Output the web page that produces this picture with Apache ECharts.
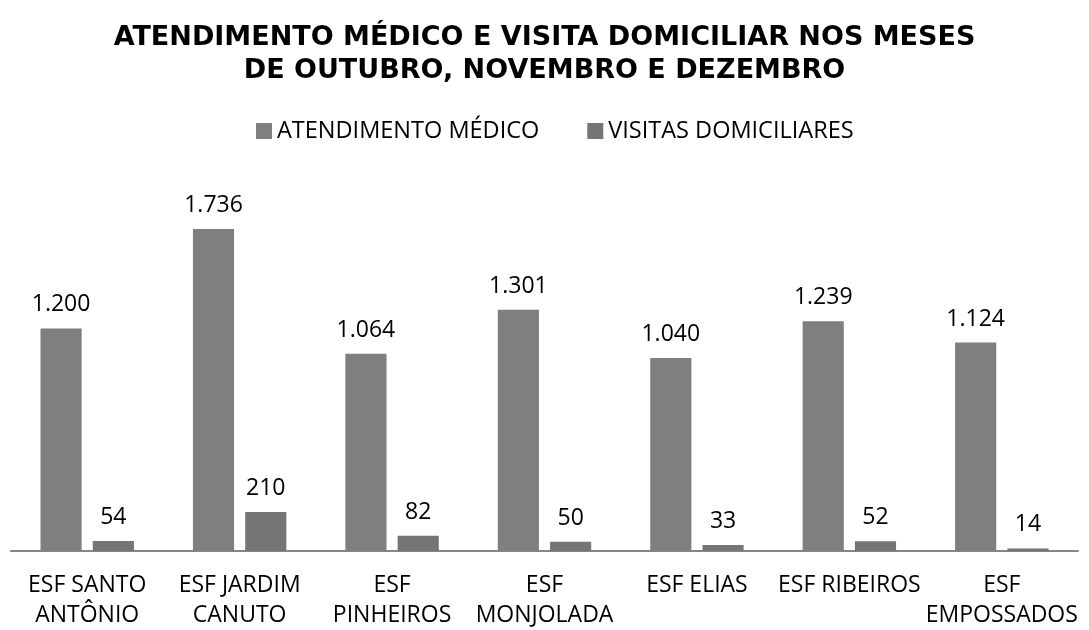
<!DOCTYPE html>
<html>
<head>
<meta charset="utf-8">
<script src="https://cdn.jsdelivr.net/npm/echarts@6/dist/echarts.min.js"></script>
<style>
  html, body { margin: 0; padding: 0; background: #fff; }
  #chart { width: 1089px; height: 630px; }
</style>
</head>
<body>
<div id="chart"></div>
<script>
// dados
var unidades = ['ESF SANTO\nANTÔNIO', 'ESF JARDIM\nCANUTO', 'ESF\nPINHEIROS', 'ESF\nMONJOLADA', 'ESF ELIAS', 'ESF RIBEIROS', 'ESF\nEMPOSSADOS'];
var atendimentoMedico = [1200, 1736, 1064, 1301, 1040, 1239, 1124];
var visitasDomiciliares = [54, 210, 82, 50, 33, 52, 14];

var labelFont = 'Open Sans';

function fmtNum(v) {
    return String(v).replace(/\B(?=(\d{3})+(?!\d))/g, '.');
}

var chart = echarts.init(document.getElementById('chart'));
var option = {
    animation: false,
    title: {
        text: 'ATENDIMENTO MÉDICO E VISITA DOMICILIAR NOS MESES\nDE OUTUBRO, NOVEMBRO E DEZEMBRO',
        left: 'center',
        top: 16,
        textStyle: {
            fontFamily: 'DejaVu Sans',
            fontWeight: 'bold',
            fontSize: 27,
            lineHeight: 33,
            color: '#000'
        }
    },
    legend: {
        top: 114,
        left: 251,
        itemWidth: 16,
        itemHeight: 16,
        itemGap: 48,
        icon: 'rect',
        textStyle: { fontFamily: labelFont, fontSize: 23.5, color: '#000' },
        data: ['ATENDIMENTO MÉDICO', 'VISITAS DOMICILIARES']
    },
    grid: { left: 11, right: 11, top: 180, bottom: 79, containLabel: false },
    xAxis: {
        type: 'category',
        data: unidades,
        axisLine: { lineStyle: { color: '#868686', width: 2 } },
        axisTick: { show: false },
        axisLabel: {
            interval: 0,
            margin: 19,
            fontFamily: labelFont,
            fontSize: 23,
            lineHeight: 30,
            color: '#000'
        }
    },
    yAxis: {
        type: 'value',
        min: 0,
        max: 2000,
        show: false,
        splitLine: { show: false }
    },
    series: [
        {
            name: 'ATENDIMENTO MÉDICO',
            type: 'bar',
            data: atendimentoMedico,
            barWidth: '27%',
            barGap: '27%',
            itemStyle: { color: '#7f7f7f' },
            label: {
                show: true,
                position: 'top',
                distance: 12,
                fontFamily: labelFont,
                fontSize: 23,
                color: '#000',
                formatter: function (p) { return fmtNum(p.value); }
            }
        },
        {
            name: 'VISITAS DOMICILIARES',
            type: 'bar',
            data: visitasDomiciliares,
            barWidth: '27%',
            itemStyle: { color: '#757575' },
            label: {
                show: true,
                position: 'top',
                distance: 12,
                fontFamily: labelFont,
                fontSize: 23,
                color: '#000',
                formatter: function (p) { return fmtNum(p.value); }
            }
        }
    ]
};
chart.setOption(option);
</script>
</body>
</html>
